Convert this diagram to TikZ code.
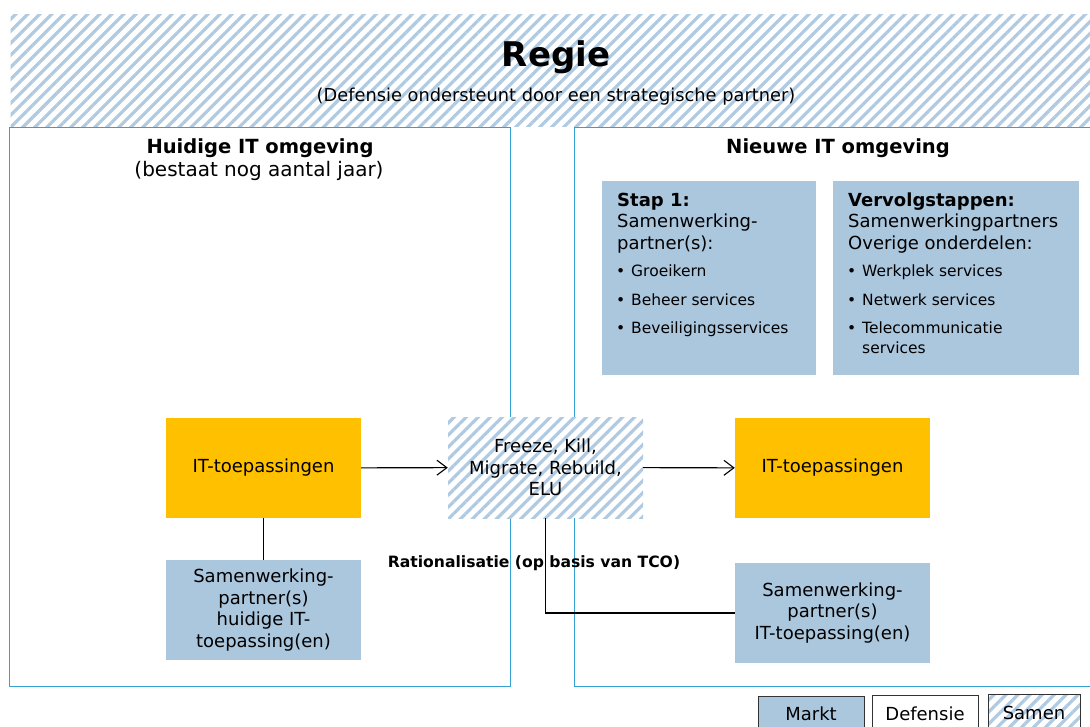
\documentclass[tikz,border=0pt]{standalone}
\usepackage{fontspec}
\setmainfont{DejaVu Sans}
\usepackage{xcolor}
\usepackage{tikz}
\usetikzlibrary{arrows.meta}
\usetikzlibrary{patterns.meta}
\definecolor{hatchblue}{HTML}{B0CAE1}
\definecolor{marktblue}{HTML}{ABC7DE}
\definecolor{frameblue}{HTML}{35A0D2}
\definecolor{appyellow}{HTML}{FFC000}
\newcommand{\txtsize}{\fontsize{18}{21.5}\selectfont}
\newcommand{\kopsize}{\fontsize{19.5}{22}\selectfont}
\newcommand{\bulsize}{\fontsize{15.5}{18}\selectfont}

\begin{document}
\begin{tikzpicture}[x=1pt,y=-1pt,>={Straight Barb[length=10pt,width=15pt,line width=1.1pt]}]
	\useasboundingbox (0,0) rectangle (1090,727);
	\tikzstyle{samen}=[preaction={fill=white},pattern={Lines[angle=45,distance=8.5pt,line width=3.2pt]},pattern color=hatchblue,inner sep=0pt];
	\tikzstyle{markt}=[fill=marktblue,inner sep=0pt];
	\tikzstyle{app}=[fill=appyellow,inner sep=0pt];
	\tikzstyle{frame}=[draw=frameblue,line width=1.4pt,inner sep=0pt];
	\tikzstyle{legend}=[draw=black!80,line width=1.2pt,inner sep=0pt,minimum width=106pt,minimum height=42pt,anchor=north west];
	\tikzstyle{blk}=[align=center,font=\txtsize,inner sep=0pt];
	\node[samen,anchor=north west,minimum width=1095pt,minimum height=112pt] (regie) at (9,13) {};
	\node[frame,anchor=north west,minimum width=501pt,minimum height=559pt] (huidig) at (9,127) {};
	\node[frame,anchor=north west,minimum width=525pt,minimum height=559pt] (nieuw) at (574,127) {};
	\node[font=\fontsize{34}{36}\selectfont\bfseries,anchor=base] (regiet) at (556,66.5) {Regie};
	\node[font=\fontsize{17.8}{20}\selectfont,anchor=base] (regiesub) at (556,101.5) {(Defensie ondersteunt door een strategische partner)};
	\node[font=\kopsize\bfseries,anchor=base] (huidigt) at (260,154) {Huidige IT omgeving};
	\node[font=\fontsize{20}{22}\selectfont,anchor=base] (huidigsub) at (259,176.5) {(bestaat nog aantal jaar)};
	\node[font=\kopsize\bfseries,anchor=base] (nieuwt) at (838,154) {Nieuwe IT omgeving};
	\node[markt,anchor=north west,minimum width=214pt,minimum height=194pt] (stap) at (602,181) {};
	\node[markt,anchor=north west,minimum width=246pt,minimum height=194pt] (vervolg) at (833,181) {};
	\node[font=\txtsize\bfseries,anchor=base west,inner sep=0pt] (stapa) at (617,206.5) {Stap 1:};
	\node[font=\txtsize,anchor=base west,inner sep=0pt] (stapb) at (617,228) {Samenwerking-};
	\node[font=\txtsize,anchor=base west,inner sep=0pt] (stapc) at (617,249.5) {partner(s):};
	\node[font=\txtsize\bfseries,anchor=base west,inner sep=0pt] (vervolga) at (848,206.5) {Vervolgstappen:};
	\node[font=\txtsize,anchor=base west,inner sep=0pt] (vervolgb) at (848,228) {Samenwerkingpartners};
	\node[font=\txtsize,anchor=base west,inner sep=0pt] (vervolgc) at (848,249.5) {Overige onderdelen:};
	\tikzstyle{every node}=[font=\bulsize,anchor=base west,inner sep=0pt];
	\node (bs1) at (616,277) {•}; \node (ts1) at (631,277) {Groeikern};
	\node (bs2) at (616,306) {•}; \node (ts2) at (631,306) {Beheer services};
	\node (bs3) at (616,334) {•}; \node (ts3) at (631,334) {Beveiligingsservices};
	\node (bv1) at (847,277) {•}; \node (tv1) at (862,277) {Werkplek services};
	\node (bv2) at (847,306) {•}; \node (tv2) at (862,306) {Netwerk services};
	\node (bv3) at (847,334) {•}; \node (tv3) at (862,334) {Telecommunicatie};
	\node (tv4) at (862,353) {services};
	\tikzstyle{every node}=[];
	\node[app,blk,minimum width=195pt,minimum height=100pt] (oudapp) at (263.5,468) {IT-toepassingen};
	\node[samen,blk,minimum width=195pt,minimum height=101pt] (keuze) at (545.5,467.5) {Freeze, Kill,\\Migrate, Rebuild,\\ELU};
	\node[app,blk,minimum width=195pt,minimum height=100pt] (nieuwapp) at (832.5,468) {IT-toepassingen};
	\node[markt,blk,minimum width=195pt,minimum height=100pt] (oudpartner) at (263.5,610) {Samenwerking-\\partner(s)\\huidige IT-\\toepassing(en)};
	\node[markt,blk,minimum width=195pt,minimum height=100pt] (nieuwpartner) at (832.5,613) {Samenwerking-\\partner(s)\\IT-toepassing(en)};
	\node[font=\fontsize{15.6}{18}\selectfont\bfseries,anchor=base] (ratio) at (534,567) {Rationalisatie (op basis van TCO)};
	\draw[->,line width=1.1pt] (oudapp) -- (keuze);
	\draw[->,line width=1.1pt] (keuze) -- (nieuwapp);
	\draw[line width=1.1pt] (oudapp) -- (oudpartner);
	\draw[line width=1.1pt] (keuze.south) |- (nieuwpartner.west);
	\node[legend,fill=marktblue] (markt) at (758,696) {};
	\node[legend,fill=white] (defensie) at (872,695) {};
	\node[legend,samen,draw=black!80,line width=1.2pt,minimum width=92pt,minimum height=42pt,anchor=north west] (samen) at (988,694) {};
	\draw (811,720) node[font=\txtsize,anchor=base] {Markt} (925,720) node[font=\txtsize,anchor=base] {Defensie} (1034,719) node[font=\txtsize,anchor=base] {Samen};
\end{tikzpicture}
\end{document}
